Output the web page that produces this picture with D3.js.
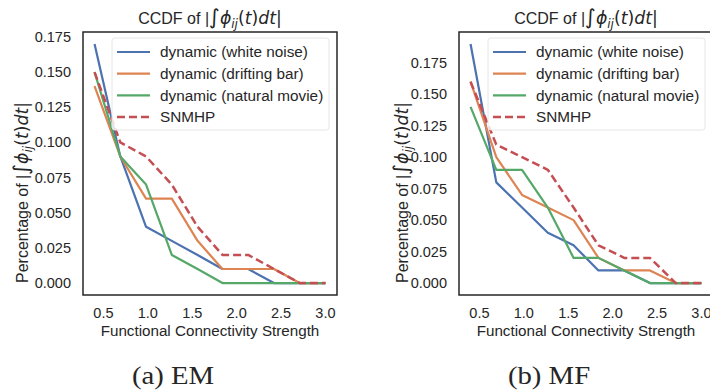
<!DOCTYPE html>
<html>
<head>
<meta charset="utf-8">
<script src="https://cdn.jsdelivr.net/npm/d3@7"></script>
<style>
  body { margin: 0; background: #fff; }
  text { fill: #262626; }
</style>
</head>
<body>
<svg id="chart" width="710" height="392"></svg>
<script>
// connectivity strength bins (x positions of the CCDF points)
var strength = [0.40, 0.69, 0.98, 1.27, 1.56, 1.84, 2.13, 2.42, 2.71, 3.00];

var seriesNames = ["dynamic (white noise)", "dynamic (drifting bar)", "dynamic (natural movie)", "SNMHP"];

// panel (a) EM
var emWhite   = [0.17, 0.09, 0.04, 0.03, 0.02, 0.01, 0.01, 0.00, 0.00, 0.00];
var emBar     = [0.14, 0.09, 0.06, 0.06, 0.03, 0.01, 0.01, 0.01, 0.00, 0.00];
var emMovie   = [0.15, 0.09, 0.07, 0.02, 0.01, 0.00, 0.00, 0.00, 0.00, 0.00];
var emSnmhp   = [0.15, 0.10, 0.09, 0.07, 0.04, 0.02, 0.02, 0.01, 0.00, 0.00];

// panel (b) MF
var mfWhite   = [0.19, 0.08, 0.06, 0.04, 0.03, 0.01, 0.01, 0.00, 0.00, 0.00];
var mfBar     = [0.16, 0.10, 0.07, 0.06, 0.05, 0.02, 0.01, 0.01, 0.00, 0.00];
var mfMovie   = [0.14, 0.09, 0.09, 0.06, 0.02, 0.02, 0.01, 0.00, 0.00, 0.00];
var mfSnmhp   = [0.16, 0.11, 0.10, 0.09, 0.06, 0.03, 0.02, 0.02, 0.00, 0.00];

var xTicks = [0.5, 1.0, 1.5, 2.0, 2.5, 3.0];
var yTicks = [0, 0.025, 0.05, 0.075, 0.1, 0.125, 0.15, 0.175];

var colors = ["#4C72B0", "#DD8452", "#55A868", "#C44E52"];

var svg = d3.select("#chart");

// write "... |∫ϕ_ij(t)dt|" as tspans, like matplotlib mathtext
function mathLabel(txt, prefix) {
    txt.append("tspan").text(prefix + "|");
    var m = function () {
        return txt.append("tspan").attr("font-family", "DejaVu Sans").attr("font-size", "1.08em");
    };
    m().attr("font-size", "1.3em").text("∫");
    m().attr("font-style", "italic").text("ϕ");
    m().attr("font-style", "italic").attr("font-size", "0.75em").attr("dy", "0.3em").text("ij");
    m().attr("dy", "-0.22em").text("(");
    m().attr("font-style", "italic").text("t");
    m().text(")");
    m().attr("font-style", "italic").text("dt");
    m().text("|");
}

function drawPanel(p) {
    var x = d3.scaleLinear().domain([0.27, 3.13]).range([p.left, p.right]);
    var y = d3.scaleLinear().domain(p.yDomain).range([295, 32]);

    var g = svg.append("g").attr("font-family", "Liberation Sans, Arial, sans-serif");

    // tick labels (seaborn white style: no tick marks)
    g.selectAll(".xt").data(xTicks).enter().append("text")
        .attr("x", function (d) { return x(d); })
        .attr("y", 318)
        .attr("text-anchor", "middle")
        .attr("font-size", 14.5)
        .text(d3.format(".1f"));

    g.selectAll(".yt").data(yTicks.filter(function (d) { return d <= p.yDomain[1]; })).enter().append("text")
        .attr("x", p.left - 12)
        .attr("y", function (d) { return y(d); })
        .attr("dy", "0.35em")
        .attr("text-anchor", "end")
        .attr("font-size", 14.5)
        .text(d3.format(".3f"));

    var line = d3.line()
        .x(function (d, i) { return x(strength[i]); })
        .y(function (d) { return y(d); });

    p.series.forEach(function (vals, i) {
        g.append("path")
            .datum(vals)
            .attr("d", line)
            .attr("fill", "none")
            .attr("stroke", colors[i])
            .attr("stroke-width", i == 3 ? 2.5 : 2.2)
            .attr("stroke-dasharray", i == 3 ? "8,4" : null)
            .attr("stroke-linejoin", "round");
    });

    // legend
    var lg = g.append("g");
    lg.append("rect")
        .attr("x", p.legendX).attr("y", 38)
        .attr("width", 217).attr("height", 92)
        .attr("rx", 3)
        .attr("fill", "#fff").attr("fill-opacity", 0.8)
        .attr("stroke", "#e6e6e6").attr("stroke-width", 1);
    seriesNames.forEach(function (name, i) {
        var yy = 52 + i * 21.7;
        lg.append("line")
            .attr("x1", p.legendX + 5).attr("x2", p.legendX + 38)
            .attr("y1", yy).attr("y2", yy)
            .attr("stroke", colors[i])
            .attr("stroke-width", i == 3 ? 2.5 : 2.2)
            .attr("stroke-dasharray", i == 3 ? "8,4" : null);
        lg.append("text")
            .attr("x", p.legendX + 48).attr("y", yy)
            .attr("dy", "0.35em")
            .attr("font-size", 15.3)
            .text(name);
    });

    // frame
    g.append("rect")
        .attr("x", p.left).attr("y", 32)
        .attr("width", p.right - p.left).attr("height", 263)
        .attr("fill", "none")
        .attr("stroke", "#262626").attr("stroke-width", 1.5);

    // title
    var t = g.append("text")
        .attr("x", (p.left + p.right) / 2).attr("y", 24)
        .attr("text-anchor", "middle")
        .attr("font-size", 16);
    mathLabel(t, "CCDF of ");

    // axis labels
    g.append("text")
        .attr("x", (p.left + p.right) / 2).attr("y", 336)
        .attr("text-anchor", "middle")
        .attr("font-size", 15.2)
        .text("Functional Connectivity Strength");

    var yl = g.append("text")
        .attr("transform", "translate(" + p.ylabelX + ",283) rotate(-90)")
        .attr("font-size", 16);
    mathLabel(yl, "Percentage of ");

    // caption (wider serif, close to Computer Modern proportions)
    svg.append("text")
        .attr("transform", "translate(" + p.captionX + ",384) scale(1.15,1)")
        .attr("text-anchor", "middle")
        .attr("font-family", "Liberation Serif, DejaVu Serif, serif")
        .attr("font-size", 25)
        .text(p.caption);
}

drawPanel({
    left: 83, right: 337,
    yDomain: [-0.0085, 0.1785],
    series: [emWhite, emBar, emMovie, emSnmhp],
    legendX: 112,
    ylabelX: 28,
    captionX: 173,
    caption: "(a) EM"
});

drawPanel({
    left: 459, right: 713,
    yDomain: [-0.0095, 0.1995],
    series: [mfWhite, mfBar, mfMovie, mfSnmhp],
    legendX: 488,
    ylabelX: 408,
    captionX: 549,
    caption: "(b) MF"
});
</script>
</body>
</html>
